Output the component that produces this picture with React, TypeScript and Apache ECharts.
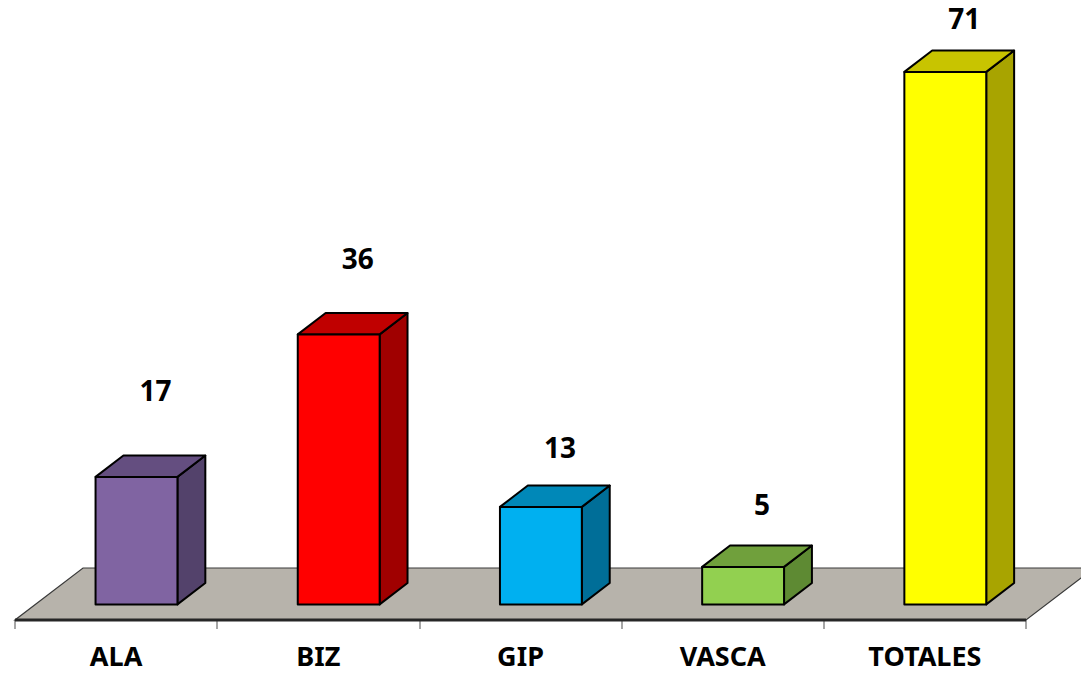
import React, { useEffect, useRef } from "react";
import * as echarts from "echarts";

const categories = ["ALA", "BIZ", "GIP", "VASCA", "TOTALES"];
const values = [17, 36, 13, 5, 71];
const frontColors = ["#8064a2", "#ff0000", "#00b0f0", "#92d050", "#ffff00"];
const topColors = ["#644e80", "#c00000", "#0088b8", "#70a03c", "#c8c400"];
const sideColors = ["#53426b", "#a00000", "#006e98", "#5e8a33", "#a8a400"];
// vertical gap (px) between the bar's front top edge and its value label
const labelGap = [87, 76, 60, 63, 54];

const FLOOR_DX = 68;
const FLOOR_DY = -52;
const BAR_START = 0.3;
const BAR_DEPTH = 0.41;
const BAR_WIDTH_FRAC = 0.405;

export default function App() {
  const ref = useRef<HTMLDivElement>(null);
  useEffect(() => {
    if (!ref.current) return;
    const chart = echarts.init(ref.current, undefined, { renderer: "svg" });
    const n = categories.length;
    const font = "'Noto Sans', 'Open Sans', sans-serif";
    chart.setOption({
      animation: false,
      backgroundColor: "#ffffff",
      grid: { left: 15, right: 55, top: 20, bottom: 55 },
      xAxis: {
        type: "category",
        data: categories,
        boundaryGap: true,
        axisLine: { show: false },
        axisTick: { show: true, length: 9, lineStyle: { color: "#a6a6a6", width: 2 } },
        axisLabel: {
          margin: 21,
          color: "#000000",
          fontFamily: font,
          fontWeight: "bold",
          fontSize: 27,
          lineHeight: 28,
        },
      },
      yAxis: {
        type: "value",
        min: 0,
        max: 80,
        show: false,
        splitLine: { show: false },
      },
      series: [
        {
          type: "custom",
          z: 1,
          data: [[0, 0]],
          renderItem: (params: any, api: any) => {
            const band = api.size([1, 0])[0];
            const p0 = api.coord([0, 0]);
            const pn = api.coord([n - 1, 0]);
            const xl = p0[0] - band / 2;
            const xr = pn[0] + band / 2;
            const y = p0[1];
            return {
              type: "group",
              children: [
                {
                  type: "polygon",
                  shape: {
                    points: [
                      [xl, y],
                      [xr, y],
                      [xr + FLOOR_DX, y + FLOOR_DY],
                      [xl + FLOOR_DX, y + FLOOR_DY],
                    ],
                  },
                  style: { fill: "#b7b3ab", stroke: "#3a3a3a", lineWidth: 1.2 },
                },
                {
                  type: "line",
                  shape: { x1: xl, y1: y, x2: xr, y2: y },
                  style: { stroke: "#262626", lineWidth: 3 },
                },
              ],
            };
          },
        },
        {
          type: "custom",
          z: 2,
          data: values.map((v, i) => [i, v]),
          renderItem: (params: any, api: any) => {
            const i = api.value(0);
            const v = api.value(1);
            const band = api.size([1, 0])[0];
            const base = api.coord([i, 0]);
            const topP = api.coord([i, v]);
            const sx = FLOOR_DX * BAR_START;
            const sy = FLOOR_DY * BAR_START;
            const w = band * BAR_WIDTH_FRAC;
            const x0 = base[0] + sx - w / 2;
            const x1 = base[0] + sx + w / 2;
            const yb = base[1] + sy;
            const yt = topP[1] + sy;
            const ddx = FLOOR_DX * BAR_DEPTH;
            const ddy = FLOOR_DY * BAR_DEPTH;
            const stroke = { stroke: "#000000", lineWidth: 2, lineJoin: "round" };
            return {
              type: "group",
              children: [
                {
                  type: "polygon",
                  shape: { points: [[x1, yt], [x1 + ddx, yt + ddy], [x1 + ddx, yb + ddy], [x1, yb]] },
                  style: { fill: sideColors[i], ...stroke },
                },
                {
                  type: "polygon",
                  shape: { points: [[x0, yt], [x1, yt], [x1 + ddx, yt + ddy], [x0 + ddx, yt + ddy]] },
                  style: { fill: topColors[i], ...stroke },
                },
                {
                  type: "rect",
                  shape: { x: x0, y: yt, width: x1 - x0, height: yb - yt },
                  style: { fill: frontColors[i], ...stroke },
                },
                {
                  type: "text",
                  x: (x0 + x1) / 2 + 19,
                  y: yt - labelGap[i],
                  style: {
                    text: String(values[i]),
                    fill: "#000000",
                    font: `bold 28px ${font}`,
                    align: "center",
                    verticalAlign: "middle",
                  },
                },
              ],
            };
          },
        },
      ],
    });
    return () => chart.dispose();
  }, []);
  return (
    <div
      ref={ref}
      style={{ position: "absolute", left: 0, top: 0, width: 1081, height: 675, background: "#fff" }}
    />
  );
}
